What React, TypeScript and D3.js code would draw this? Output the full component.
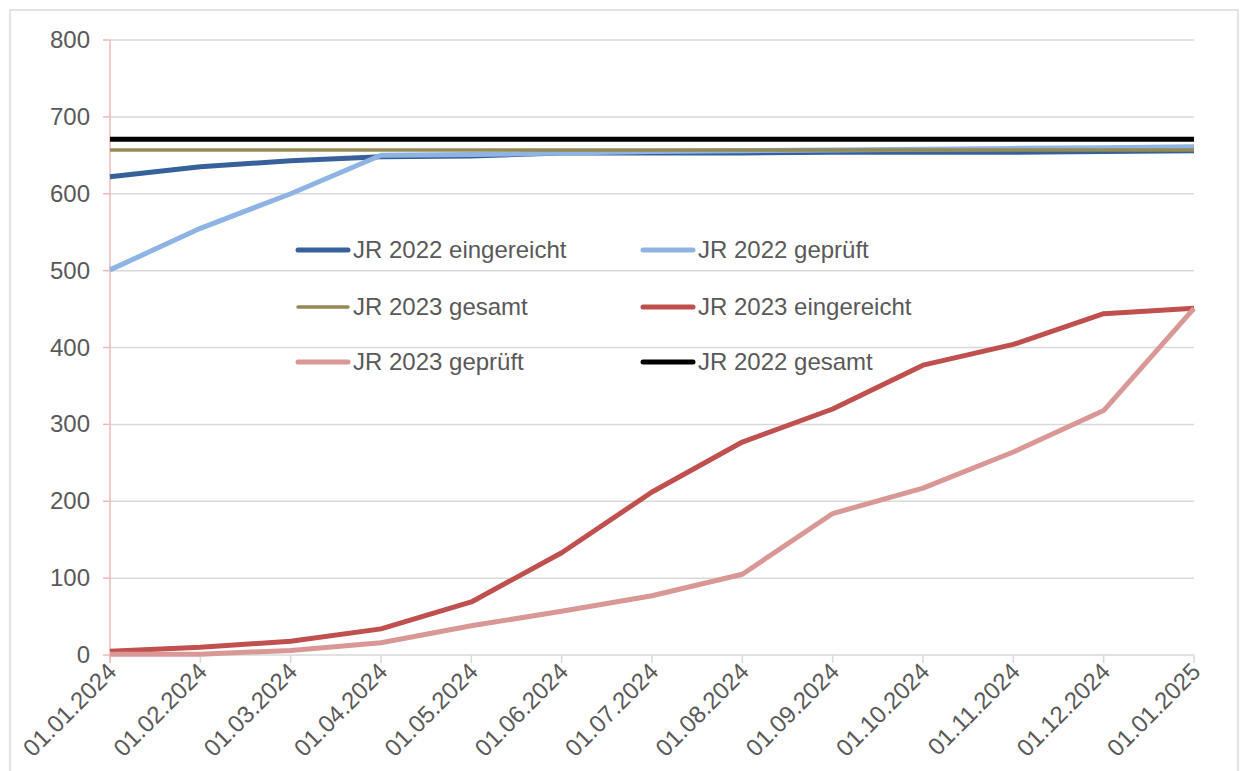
import React, { useEffect, useRef } from 'react';
import { select, scaleLinear, scalePoint, line } from 'd3';

const dates = [
  '01.01.2024', '01.02.2024', '01.03.2024', '01.04.2024', '01.05.2024', '01.06.2024',
  '01.07.2024', '01.08.2024', '01.09.2024', '01.10.2024', '01.11.2024', '01.12.2024', '01.01.2025',
];
const yTicks = [0, 100, 200, 300, 400, 500, 600, 700, 800];

const jr22Eingereicht = [622, 635, 643, 648, 649, 653, 653, 653, 654, 654, 654, 655, 656];
const jr22Geprueft = [501, 555, 600, 650, 651, 653, 655, 656, 657, 658, 659, 660, 661];
const jr23Gesamt = [657, 657, 657, 657, 657, 657, 657, 657, 657, 657, 657, 657, 657];
const jr23Eingereicht = [5, 10, 18, 34, 69, 133, 212, 277, 320, 377, 404, 444, 451];
const jr23Geprueft = [1, 1, 6, 16, 38, 57, 77, 105, 184, 217, 264, 318, 451];
const jr22Gesamt = [671, 671, 671, 671, 671, 671, 671, 671, 671, 671, 671, 671, 671];

const series = [
  { name: 'JR 2022 eingereicht', values: jr22Eingereicht, color: '#37619a', width: 5 },
  { name: 'JR 2022 geprüft', values: jr22Geprueft, color: '#8db4e3', width: 5 },
  { name: 'JR 2023 gesamt', values: jr23Gesamt, color: '#948a54', width: 3.5 },
  { name: 'JR 2023 eingereicht', values: jr23Eingereicht, color: '#c0504d', width: 5 },
  { name: 'JR 2023 geprüft', values: jr23Geprueft, color: '#d99795', width: 5 },
  { name: 'JR 2022 gesamt', values: jr22Gesamt, color: '#000000', width: 5 },
];

const W = 1240;
const H = 771;
const left = 110;
const right = 1194;
const top = 40;
const bottom = 655;
const font = '"Liberation Sans", Arial, sans-serif';
const fontSize = 24;

const App = () => {
  const svgRef = useRef(null);

  useEffect(() => {
    const svg = select(svgRef.current);
    svg.selectAll('*').remove();

    const x = scalePoint().domain(dates).range([left, right]);
    const y = scaleLinear().domain([0, 800]).range([bottom, top]);

    // frame
    svg.append('rect')
      .attr('x', 10).attr('y', 10)
      .attr('width', 1228).attr('height', H)
      .attr('fill', 'white')
      .attr('stroke', '#d9d9d9').attr('stroke-width', 1.5);

    // gridlines
    svg.append('g')
      .selectAll('line')
      .data(yTicks)
      .join('line')
      .attr('x1', left).attr('x2', right)
      .attr('y1', (d) => y(d)).attr('y2', (d) => y(d))
      .attr('stroke', '#d9d9d9').attr('stroke-width', 1.5);

    // x ticks
    svg.append('g')
      .selectAll('line')
      .data(dates)
      .join('line')
      .attr('x1', (d) => x(d)).attr('x2', (d) => x(d))
      .attr('y1', bottom).attr('y2', bottom + 8)
      .attr('stroke', '#d9d9d9').attr('stroke-width', 1.5);

    // y axis (pink)
    svg.append('line')
      .attr('x1', left).attr('x2', left)
      .attr('y1', top).attr('y2', bottom + 8)
      .attr('stroke', '#efb9b8').attr('stroke-width', 1.5);
    svg.append('g')
      .selectAll('line')
      .data(yTicks)
      .join('line')
      .attr('x1', left - 7).attr('x2', left)
      .attr('y1', (d) => y(d)).attr('y2', (d) => y(d))
      .attr('stroke', '#efb9b8').attr('stroke-width', 1.5);

    // y labels
    svg.append('g')
      .selectAll('text')
      .data(yTicks)
      .join('text')
      .attr('x', 90)
      .attr('y', (d) => y(d) + 8)
      .attr('text-anchor', 'end')
      .attr('font-family', font)
      .attr('font-size', fontSize)
      .attr('fill', '#595959')
      .text((d) => d);

    // x labels
    svg.append('g')
      .selectAll('text')
      .data(dates)
      .join('text')
      .attr('transform', (d) => `translate(${(x(d) as number) + 8},${bottom + 18}) rotate(-45)`)
      .attr('text-anchor', 'end')
      .attr('font-family', font)
      .attr('font-size', fontSize)
      .attr('fill', '#595959')
      .text((d) => d);

    // lines
    const path = line<number>()
      .x((_, i) => x(dates[i]) as number)
      .y((d) => y(d));

    svg.append('g')
      .selectAll('path')
      .data(series)
      .join('path')
      .attr('d', (s) => path(s.values))
      .attr('fill', 'none')
      .attr('stroke', (s) => s.color)
      .attr('stroke-width', (s) => s.width)
      .attr('stroke-linejoin', 'round');

    // legend
    const legend = svg.append('g')
      .selectAll('g')
      .data(series)
      .join('g')
      .attr('transform', (_, i) => `translate(${i % 2 === 0 ? 298 : 643},${[250, 307, 362][Math.floor(i / 2)]})`);
    legend.append('line')
      .attr('x1', 0).attr('x2', 50)
      .attr('y1', 0).attr('y2', 0)
      .attr('stroke', (s) => s.color)
      .attr('stroke-width', (s) => s.width)
      .attr('stroke-linecap', 'round');
    legend.append('text')
      .attr('x', 55).attr('y', 8)
      .attr('font-family', font)
      .attr('font-size', fontSize)
      .attr('fill', '#595959')
      .text((s) => s.name);
  }, []);

  return (
    <svg
      ref={svgRef}
      width={W}
      height={H}
      style={{ position: 'absolute', left: 0, top: 0, background: 'white' }}
    />
  );
};

export default App;
